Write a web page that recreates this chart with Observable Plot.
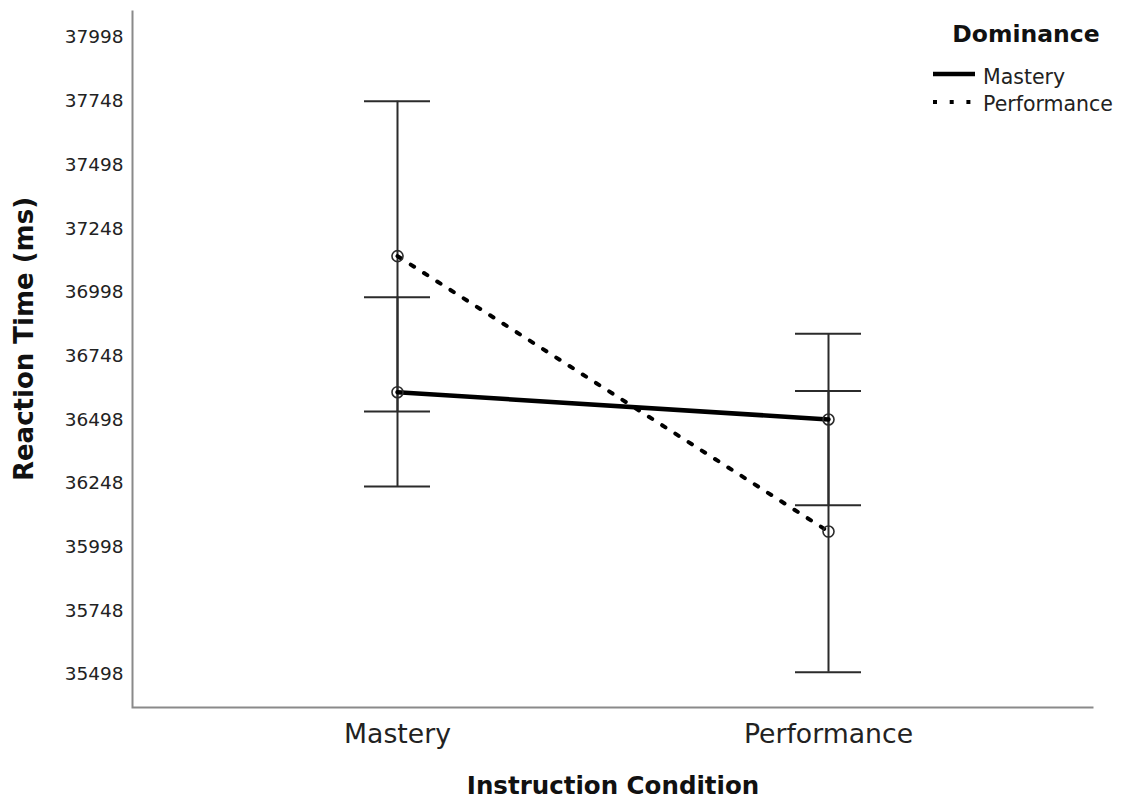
<!DOCTYPE html>
<html>
<head>
<meta charset="utf-8">
<script src="https://cdn.jsdelivr.net/npm/d3@7"></script>
<script src="https://cdn.jsdelivr.net/npm/@observablehq/plot@0.6"></script>
<style>
  html, body { margin: 0; padding: 0; background: #fff; }
  #wrap { position: relative; width: 1129px; height: 799px; font-family: "DejaVu Sans", sans-serif; }
  #legend { position: absolute; left: 920px; top: 0px; }
</style>
</head>
<body>
<div id="wrap">
  <div id="chart"></div>
  <svg id="legend" width="209" height="125" font-family="DejaVu Sans, sans-serif">
    <text x="106" y="42" text-anchor="middle" font-size="23.5" font-weight="bold" fill="#111">Dominance</text>
    <line x1="13" x2="55" y1="74" y2="74" stroke="#000" stroke-width="4.5"></line>
    <text x="63" y="84" font-size="20.5" fill="#222">Mastery</text>
    <line x1="13" x2="55" y1="102" y2="102" stroke="#000" stroke-width="4" stroke-dasharray="4 12.7"></line>
    <text x="63" y="111" font-size="20.5" fill="#222">Performance</text>
  </svg>
</div>
<script>
// Categories
const conditions = ["Mastery", "Performance"];          // Instruction Condition (x)
const dominanceLevels = ["Mastery", "Performance"];     // Dominance (series)

// Series values (means and 95% CI bounds)
const masteryMean  = [36606, 36499];
const masteryLower = [36236, 36162];
const masteryUpper = [36979, 36835];

const performanceMean  = [37140, 36059];
const performanceLower = [36530, 35507];
const performanceUpper = [37748, 36611];

// Tick labels
const yTicks = [35498, 35748, 35998, 36248, 36498, 36748, 36998, 37248, 37498, 37748, 37998];

const series = {
  Mastery: {mean: masteryMean, lo: masteryLower, hi: masteryUpper},
  Performance: {mean: performanceMean, lo: performanceLower, hi: performanceUpper}
};
const rows = dominanceLevels.flatMap(dom =>
  conditions.map((c, i) => ({
    condition: c,
    dominance: dom,
    mean: series[dom].mean[i],
    lo: series[dom].lo[i],
    hi: series[dom].hi[i]
  }))
);

const barColor = "#2b2b2b";

const chart = Plot.plot({
  width: 1129,
  height: 799,
  marginLeft: 132,
  marginRight: 36,
  marginTop: 10,
  marginBottom: 92,
  style: {fontFamily: "DejaVu Sans, sans-serif", background: "white", color: "#222"},
  x: {type: "band", domain: conditions, paddingInner: 0.8472, paddingOuter: 0.5359, align: 0.5},
  y: {domain: [35368.5, 38104]},
  marks: [
    Plot.frame({stroke: "#8a8a8a", strokeWidth: 2, strokeDasharray: "0 1658 1658"}),
    Plot.axisY({ticks: yTicks, tickSize: 0, tickPadding: 9, fontSize: 18.5, label: null, tickFormat: d3.format("d")}),
    Plot.axisX({tickSize: 0, tickPadding: 17, fontSize: 26.7, label: null}),
    Plot.ruleX(rows, {x: "condition", y1: "lo", y2: "hi", stroke: barColor, strokeWidth: 2}),
    Plot.tickY(rows, {x: "condition", y: "lo", stroke: barColor, strokeWidth: 2}),
    Plot.tickY(rows, {x: "condition", y: "hi", stroke: barColor, strokeWidth: 2}),
    Plot.line(rows.filter(d => d.dominance === "Mastery"), {x: "condition", y: "mean", stroke: "#000", strokeWidth: 4.5}),
    Plot.line(rows.filter(d => d.dominance === "Performance"), {x: "condition", y: "mean", stroke: "#000", strokeWidth: 4, strokeDasharray: "4 11.7"}),
    Plot.dot(rows, {x: "condition", y: "mean", r: 5.5, stroke: barColor, strokeWidth: 1.6, fill: "none"}),
    Plot.text(["Reaction Time (ms)"], {text: d => d, frameAnchor: "left", textAnchor: "middle", lineAnchor: "middle", rotate: -90, dx: -108, dy: -20, fontSize: 26, fontWeight: "bold", fill: "#111"}),
    Plot.text(["Instruction Condition"], {text: d => d, frameAnchor: "bottom", textAnchor: "middle", lineAnchor: "middle", dy: 79, fontSize: 24.5, fontWeight: "bold", fill: "#111"})
  ]
});
document.getElementById("chart").appendChild(chart);
</script>
</body>
</html>
